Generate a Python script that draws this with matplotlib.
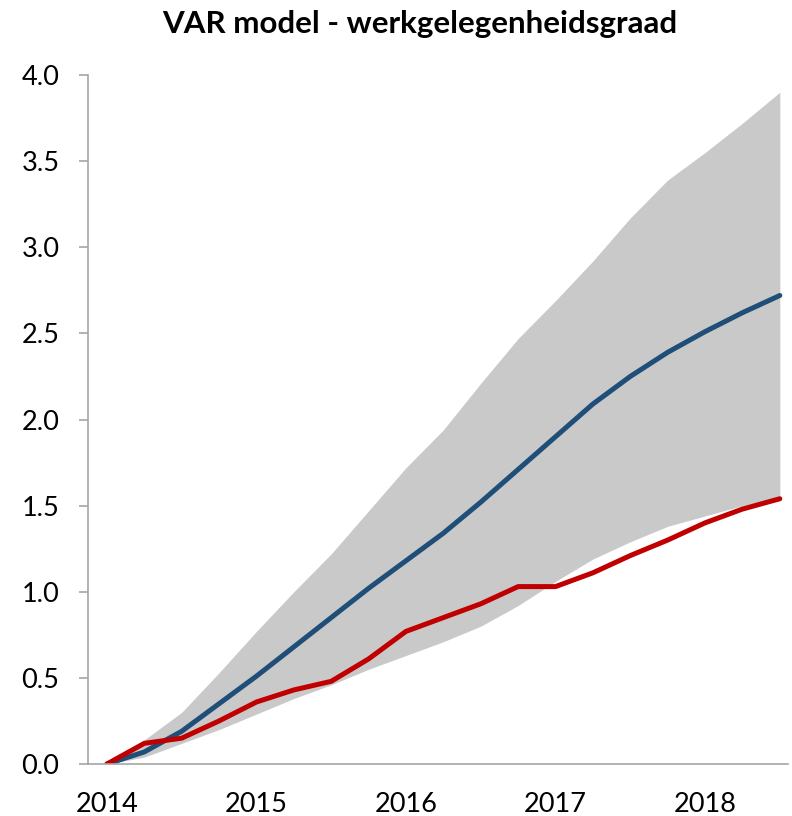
import matplotlib
matplotlib.use("Agg")
import matplotlib.pyplot as plt
import numpy as np

plt.rcParams['font.family'] = ['Lato', 'DejaVu Sans']

quarters = [2014.0 + 0.25 * i for i in range(19)]
forecast = [0, 0.07, 0.19, 0.35, 0.51, 0.68, 0.85, 1.02, 1.18, 1.34, 1.52, 1.71,
            1.90, 2.09, 2.25, 2.39, 2.51, 2.62, 2.72]
realised = [0, 0.12, 0.15, 0.25, 0.36, 0.43, 0.48, 0.61, 0.77, 0.85, 0.93, 1.03,
            1.03, 1.11, 1.21, 1.30, 1.40, 1.48, 1.54]
upper = [0, 0.14, 0.30, 0.53, 0.77, 1.00, 1.22, 1.47, 1.72, 1.94, 2.21, 2.47,
         2.69, 2.92, 3.17, 3.39, 3.55, 3.72, 3.90]
lower = [0, 0.04, 0.12, 0.20, 0.29, 0.38, 0.46, 0.55, 0.63, 0.71, 0.80, 0.92,
         1.06, 1.19, 1.29, 1.38, 1.44, 1.50, 1.55]
year_ticks = [2014, 2015, 2016, 2017, 2018]
y_ticks = [0.0, 0.5, 1.0, 1.5, 2.0, 2.5, 3.0, 3.5, 4.0]

fig = plt.figure(figsize=(7.92, 8.16), dpi=100)
ax = fig.add_axes([0.111, 0.0637, 0.884, 0.8444])

ax.fill_between(quarters, lower, upper, color='#C9C9C9', linewidth=0)
ax.plot(quarters, forecast, color='#1F4E79', linewidth=3.6, solid_capstyle='round')
ax.plot(quarters, realised, color='#C00000', linewidth=3.6, solid_capstyle='round')

ax.set_xlim(2013.873, 2018.555)
ax.set_ylim(0, 4.0)
ax.set_xticks(year_ticks)
ax.set_xticklabels([str(y) for y in year_ticks])
ax.set_yticks(y_ticks)
ax.set_yticklabels([f"{v:.1f}" for v in y_ticks])

for s in ['top', 'right']:
    ax.spines[s].set_visible(False)
for s in ['left', 'bottom']:
    ax.spines[s].set_color('#A6A6A6')
    ax.spines[s].set_linewidth(1.2)

ax.tick_params(axis='y', direction='out', length=6.5, width=1.2, color='#A6A6A6',
               labelsize=19.5, pad=14, labelcolor='black')
ax.tick_params(axis='x', length=0, labelsize=19.5, pad=20, labelcolor='black')

fig.text(0.53, 0.971, 'VAR model - werkgelegenheidsgraad', ha='center', va='center',
         fontsize=22.5, fontweight='bold')

fig.savefig('out.png', dpi=100)
